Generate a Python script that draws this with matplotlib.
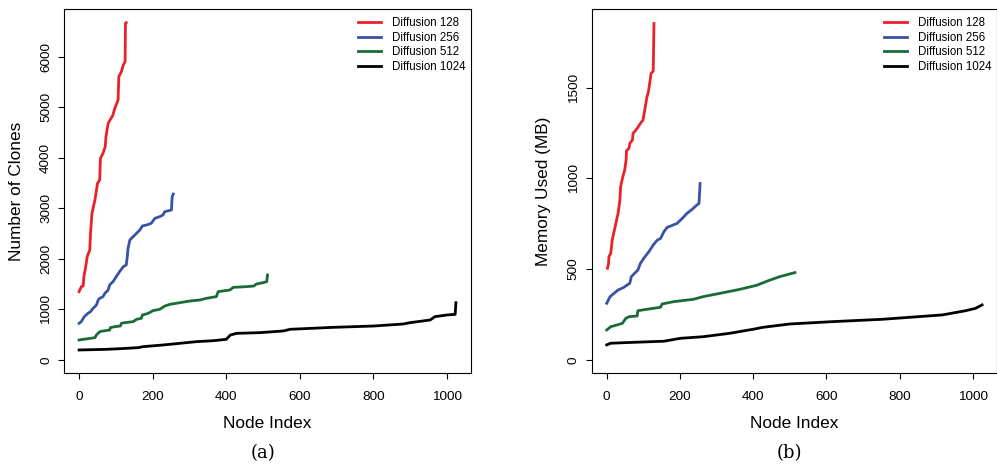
"""
Clone count and memory use per node for the four diffusion sizes,
two panels side by side in R base-graphics style.
"""
import matplotlib

matplotlib.use("Agg")
import matplotlib.pyplot as plt

plt.rcParams["font.family"] = ["Liberation Sans", "DejaVu Sans"]

# ---- panel (a): number of clones ----
clones_128_x = [0, 6, 11, 13, 18, 22, 29, 31, 35, 43, 50, 56, 58, 65, 71, 73,
                79, 92, 97, 106, 108, 115, 120, 125, 126, 128]
clones_128_y = [1352, 1450, 1464, 1648, 1846, 2044, 2176, 2505, 2901, 3165,
                3494, 3560, 3989, 4088, 4220, 4418, 4681, 4846, 4978, 5143,
                5604, 5703, 5835, 5901, 6659, 6672]

clones_256_x = [0, 6, 14, 24, 31, 38, 47, 52, 56, 65, 70, 79, 83, 92, 101,
                110, 120, 128, 131, 133, 138, 147, 156, 165, 172, 183, 196,
                206, 219, 228, 233, 251, 253, 256]
clones_256_y = [725, 758, 857, 923, 956, 1022, 1088, 1187, 1220, 1253, 1319,
                1385, 1484, 1549, 1648, 1747, 1846, 1879, 2044, 2209, 2374,
                2440, 2505, 2571, 2651, 2670, 2703, 2802, 2835, 2868, 2934,
                2967, 3231, 3283]

clones_512_x = [0, 43, 47, 56, 65, 83, 85, 97, 112, 115, 124, 147, 156, 169,
                172, 188, 201, 219, 233, 247, 274, 301, 328, 346, 373, 378,
                410, 419, 455, 475, 482, 500, 510, 512]
clones_512_y = [396, 442, 494, 560, 574, 593, 640, 659, 672, 725, 738, 758,
                804, 824, 890, 923, 976, 1002, 1068, 1101, 1134, 1167, 1187,
                1220, 1253, 1352, 1385, 1437, 1451, 1464, 1503, 1530, 1549,
                1681]

clones_1024_x = [0, 74, 112, 160, 174, 228, 274, 319, 365, 400, 411, 428, 491,
                 555, 573, 691, 800, 881, 899, 954, 967, 999, 1022, 1024]
clones_1024_y = [198, 211, 224, 244, 264, 297, 330, 363, 382, 409, 494, 527,
                 541, 574, 607, 646, 672, 712, 738, 791, 857, 890, 903, 1134]

# ---- panel (b): memory used (MB) ----
mem_128_x = [2, 5, 6, 11, 15, 23, 27, 31, 36, 38, 44, 49, 53, 54, 61, 63, 70,
             72, 83, 92, 99, 103, 110, 113, 118, 121, 127, 129]
mem_128_y = [505, 532, 569, 587, 661, 734, 771, 808, 881, 955, 1010, 1046,
             1102, 1153, 1166, 1193, 1211, 1248, 1275, 1303, 1321, 1367, 1450,
             1468, 1532, 1578, 1591, 1853]

mem_256_x = [0, 9, 20, 31, 47, 56, 63, 67, 76, 85, 92, 103, 115, 127, 138,
             147, 156, 165, 174, 192, 206, 219, 233, 246, 252, 255]
mem_256_y = [312, 348, 367, 385, 400, 413, 422, 458, 477, 495, 532, 565, 596,
             633, 660, 669, 706, 730, 737, 752, 779, 807, 829, 853, 862, 972]

mem_512_x = [0, 11, 29, 43, 52, 61, 83, 85, 110, 147, 151, 183, 237, 264,
             310, 364, 409, 446, 473, 514]
mem_512_y = [165, 183, 193, 202, 229, 238, 242, 271, 279, 290, 308, 321, 334,
             349, 367, 389, 411, 440, 459, 481]

mem_1024_x = [0, 11, 74, 156, 201, 264, 337, 400, 428, 500, 618, 754, 917,
              980, 1007, 1025]
mem_1024_y = [83, 92, 97, 103, 119, 128, 147, 169, 180, 198, 211, 224, 248,
              271, 284, 303]

LABELS = ["Diffusion 128", "Diffusion 256", "Diffusion 512", "Diffusion 1024"]
COLORS = ["#EA2128", "#3953A4", "#1A6B35", "#000000"]


def style_axes(ax, ylabel, yticks, ylim):
    ax.set_xlim(-41, 1065)
    ax.set_ylim(*ylim)
    ax.set_xticks([0, 200, 400, 600, 800, 1000])
    ax.set_yticks(yticks)
    ax.tick_params(direction="out", length=4.5, width=0.8, labelsize=9.7)
    ax.tick_params(axis="x", pad=8.5)
    ax.tick_params(axis="y", pad=4)
    for lbl in ax.get_yticklabels():
        lbl.set_rotation(90)
        lbl.set_va("center")
    for sp in ax.spines.values():
        sp.set_linewidth(0.8)
    ax.set_xlabel("Node Index", fontsize=12.4, labelpad=9)
    ax.set_ylabel(ylabel, fontsize=12.4, labelpad=12)
    ax.legend(loc="upper left", bbox_to_anchor=(0.722, 0.978), frameon=False,
              fontsize=8.3, handlelength=2.0, handletextpad=0.95,
              labelspacing=0.23, borderpad=0, borderaxespad=0)


fig = plt.figure(figsize=(9.97, 4.69), dpi=100)
ax1 = fig.add_axes([0.0642, 0.2047, 0.4082, 0.7761])
ax2 = fig.add_axes([0.5935, 0.2047, 0.4062, 0.7761])

series_a = [(clones_128_x, clones_128_y), (clones_256_x, clones_256_y),
            (clones_512_x, clones_512_y), (clones_1024_x, clones_1024_y)]
series_b = [(mem_128_x, mem_128_y), (mem_256_x, mem_256_y),
            (mem_512_x, mem_512_y), (mem_1024_x, mem_1024_y)]

for (x, y), lab, c in zip(series_a, LABELS, COLORS):
    ax1.plot(x, y, color=c, lw=2, label=lab)
for (x, y), lab, c in zip(series_b, LABELS, COLORS):
    ax2.plot(x, y, color=c, lw=2, label=lab)

style_axes(ax1, "Number of Clones", [0, 1000, 2000, 3000, 4000, 5000, 6000],
           (-257, 6942))
style_axes(ax2, "Memory Used (MB)", [0, 500, 1000, 1500], (-72, 1933))

fig.text(0.264, 0.034, "(a)", ha="center", va="center", fontsize=13,
         family="DejaVu Serif")
fig.text(0.792, 0.034, "(b)", ha="center", va="center", fontsize=13,
         family="DejaVu Serif")

fig.savefig("out.png", dpi=100)
